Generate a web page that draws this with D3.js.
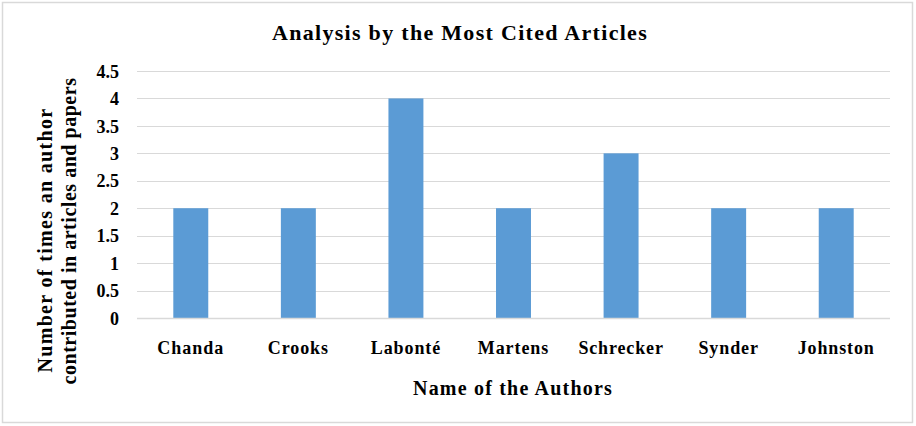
<!DOCTYPE html>
<html><head><meta charset="utf-8">
<script src="https://cdn.jsdelivr.net/npm/d3@7"></script>
<style>body{margin:0;background:#fff}svg{display:block}text{font-family:"Liberation Serif","DejaVu Serif",serif;font-weight:bold;fill:#000}</style>
</head><body>
<svg id="c" width="916" height="426"></svg>
<script>
const categories = ["Chanda","Crooks","Labonté","Martens","Schrecker","Synder","Johnston"];
const values = [2,2,4,2,3,2,2];
const yTicks = [0,0.5,1,1.5,2,2.5,3,3.5,4,4.5];
const tickLabels = ["0","0.5","1","1.5","2","2.5","3","3.5","4","4.5"];

(function(){
const svg = d3.select("#c");
function fit(sel, target){
  sel.each(function(){
    const n = this.textContent.length;
    const w = this.getComputedTextLength();
    const ls = (target - w)/Math.max(1,n);
    d3.select(this).attr("letter-spacing", ls.toFixed(2)+"px");
  });
}
svg.append("rect").attr("x",2.5).attr("y",2.5).attr("width",910).attr("height",420)
  .attr("fill","#fff").attr("stroke","#d9d9d9").attr("stroke-width",1.5);

const pLeft=137,pRight=890,pTop=71,pBottom=318;
const x = d3.scaleBand().domain(categories).range([pLeft,pRight]).paddingInner(0.675).paddingOuter(0.3375);
const y = d3.scaleLinear().domain([0,4.5]).range([pBottom,pTop]);

svg.append("g").selectAll("line").data(yTicks).join("line")
  .attr("x1",pLeft).attr("x2",pRight).attr("y1",d=>Math.round(y(d))+0.5).attr("y2",d=>Math.round(y(d))+0.5)
  .attr("stroke","#d9d9d9").attr("stroke-width",1);

svg.append("g").selectAll("rect").data(values).join("rect")
  .attr("x",(d,i)=>x(categories[i])).attr("width",x.bandwidth())
  .attr("y",d=>y(d)).attr("height",d=>y(0)-y(d)).attr("fill","#5b9bd5");

svg.append("line").attr("x1",pLeft).attr("x2",pRight).attr("y1",pBottom+0.5).attr("y2",pBottom+0.5)
  .attr("stroke","#d9d9d9").attr("stroke-width",1.5);

const yAxis = d3.axisLeft(y).tickValues(yTicks).tickFormat((d,i)=>tickLabels[i]).tickSize(0).tickPadding(0);
const ga = svg.append("g").attr("transform",`translate(119,0)`).call(yAxis);
ga.select(".domain").remove();
ga.selectAll("text").style("font-size","18px").style("font-family",'"Liberation Serif",serif').style("font-weight","bold").attr("fill","#000").attr("dy","0.34em");

const xAxis = d3.axisBottom(x).tickSize(0).tickPadding(0);
const gx = svg.append("g").attr("transform",`translate(0,0)`).call(xAxis);
gx.select(".domain").remove();
gx.selectAll("text").style("font-size","18px").style("font-family",'"Liberation Serif",serif').style("font-weight","bold").attr("fill","#000").attr("y",354).attr("dy",null);
gx.selectAll("text").each(function(){
  const w = this.getComputedTextLength();
  const n = this.textContent.length;
  d3.select(this).attr("letter-spacing",(w*0.1/n).toFixed(2)+"px");
});

const title = svg.append("text").attr("x",460).attr("y",40).attr("text-anchor","middle").style("font-size","22px").text("Analysis by the Most Cited Articles");
fit(title, 376);
const xt = svg.append("text").attr("x",513).attr("y",395).attr("text-anchor","middle").style("font-size","20px").text("Name of the Authors");
fit(xt, 200);
const yt1 = svg.append("text").attr("transform","translate(52,240) rotate(-90)").attr("text-anchor","middle").style("font-size","20px").text("Number of times an author");
fit(yt1, 265);
const yt2 = svg.append("text").attr("transform","translate(76,231) rotate(-90)").attr("text-anchor","middle").style("font-size","20px").text("contributed in articles and papers");
fit(yt2, 307);
})();
</script>
</body></html>
